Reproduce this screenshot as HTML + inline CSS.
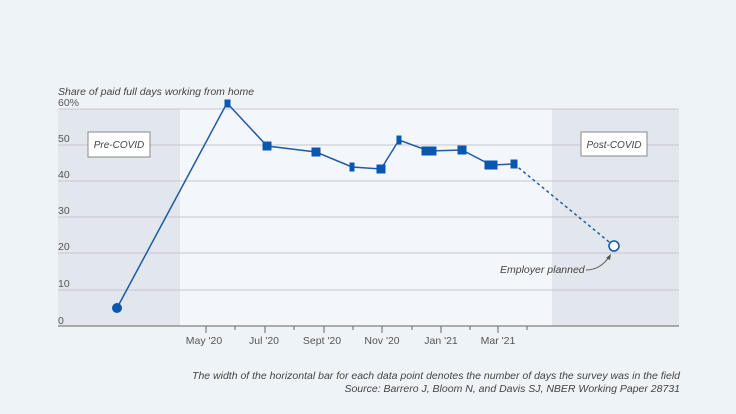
<!DOCTYPE html><html><head><style>body{margin:0;background:#eef3f8;}svg{display:block}text{font-family:"Liberation Sans",sans-serif;}</style></head><body>
<svg width="736" height="414" viewBox="0 0 736 414" xmlns="http://www.w3.org/2000/svg">
<rect width="736" height="414" fill="#eef3f8"/>
<rect x="58" y="109" width="621" height="217" fill="#f3f6fa"/>
<rect x="58" y="109" width="122" height="217" fill="#e2e7ed"/>
<rect x="552" y="109" width="127" height="217" fill="#e2e7ed"/>
<g stroke="#c5cad0" stroke-width="1">
<line x1="58" x2="679" y1="109" y2="109"/><line x1="58" x2="679" y1="145" y2="145"/><line x1="58" x2="679" y1="181" y2="181"/><line x1="58" x2="679" y1="217" y2="217"/><line x1="58" x2="679" y1="253" y2="253"/><line x1="58" x2="679" y1="290" y2="290"/></g>
<line x1="58" x2="679" y1="326" y2="326" stroke="#666" stroke-width="1"/>
<g stroke="#666" stroke-width="1">
<line x1="206" x2="206" y1="326" y2="333"/><line x1="235" x2="235" y1="326" y2="330"/><line x1="265" x2="265" y1="326" y2="333"/><line x1="294" x2="294" y1="326" y2="330"/><line x1="324" x2="324" y1="326" y2="333"/><line x1="353" x2="353" y1="326" y2="330"/><line x1="382" x2="382" y1="326" y2="333"/><line x1="412" x2="412" y1="326" y2="330"/><line x1="441" x2="441" y1="326" y2="333"/><line x1="470" x2="470" y1="326" y2="330"/><line x1="498" x2="498" y1="326" y2="333"/><line x1="527" x2="527" y1="326" y2="330"/></g>
<g font-size="10.5" fill="#555">
<text x="58" y="106">60%</text><text x="58" y="142">50</text><text x="58" y="178">40</text><text x="58" y="214">30</text><text x="58" y="250">20</text><text x="58" y="287">10</text><text x="58" y="324">0</text>
<g text-anchor="middle"><text x="204" y="344">May '20</text><text x="264" y="344">Jul '20</text><text x="322" y="344">Sept '20</text><text x="382" y="344">Nov '20</text><text x="441" y="344">Jan '21</text><text x="498" y="344">Mar '21</text></g>
</g>
<text x="58" y="95" font-size="10.5" font-style="italic" fill="#444">Share of paid full days working from home</text>
<rect x="88" y="132" width="62" height="25" fill="#fff" stroke="#888"/>
<text x="119" y="148" font-size="10" font-style="italic" fill="#444" text-anchor="middle">Pre-COVID</text>
<rect x="581" y="132" width="66" height="24" fill="#fff" stroke="#888"/>
<text x="614" y="148" font-size="10" font-style="italic" fill="#444" text-anchor="middle">Post-COVID</text>
<polyline points="117,308 227,103 267,146 316,152 352,167 381,169 399,140 429,151 462,150 491,165 514,164" fill="none" stroke="#1f5aa6" stroke-width="1.5"/>
<line x1="514" y1="164" x2="614" y2="246" stroke="#1f5aa6" stroke-width="1.5" stroke-dasharray="3,3"/>
<circle cx="117" cy="308" r="5" fill="#0b56b0"/>
<g fill="#0b56b0" stroke="#0b56b0">
<rect x="225" y="100" width="5" height="7"/><rect x="263" y="142" width="8" height="8"/><rect x="312" y="148" width="8" height="8"/><rect x="350" y="163" width="4" height="8"/><rect x="377" y="165" width="8" height="8"/><rect x="397" y="136" width="4" height="8"/><rect x="422" y="147" width="14" height="8"/><rect x="458" y="146" width="8" height="8"/><rect x="485" y="161" width="12" height="8"/><rect x="511" y="160" width="6" height="8"/></g>
<circle cx="614" cy="246" r="5" fill="#fff" stroke="#0b56b0" stroke-width="1.5"/>
<text x="500" y="273" font-size="10.5" font-style="italic" fill="#444">Employer planned</text>
<path d="M586,270 Q600,270 609,257" fill="none" stroke="#555" stroke-width="1"/>
<path d="M606,258 L611,254 L610,260 Z" fill="#555"/>
<g font-size="10.5" font-style="italic" fill="#444" text-anchor="end">
<text x="680" y="379">The width of the horizontal bar for each data point denotes the number of days the survey was in the field</text>
<text x="680" y="392">Source: Barrero J, Bloom N, and Davis SJ, NBER Working Paper 28731</text></g>
</svg></body></html>
